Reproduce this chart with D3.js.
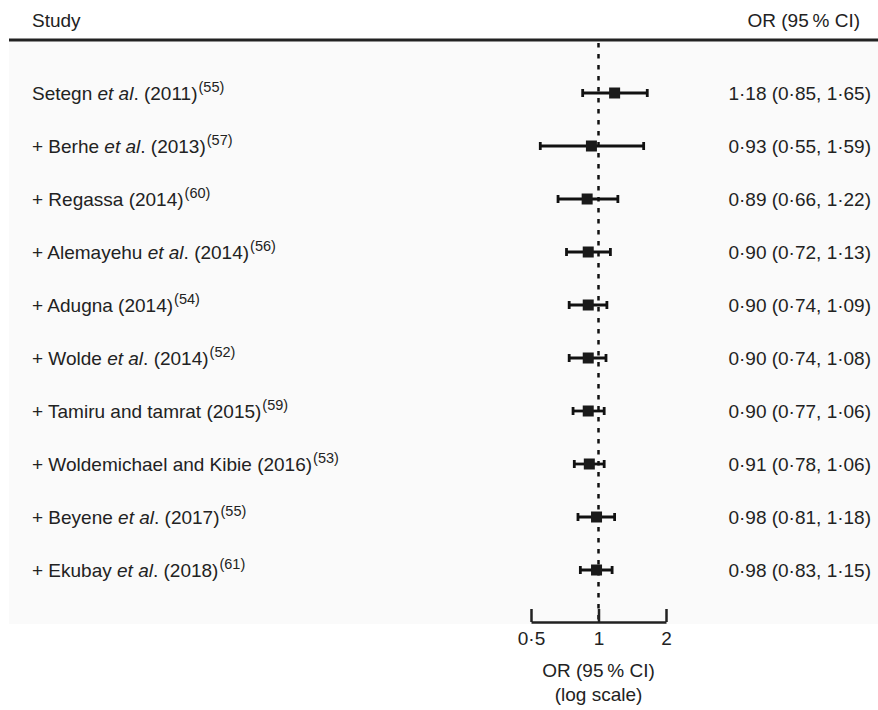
<!DOCTYPE html>
<html>
<head>
<meta charset="utf-8">
<script src="https://cdn.jsdelivr.net/npm/d3@7"></script>
<style>
  body { margin: 0; background: #fff; }
  text { font-family: "Liberation Sans", Arial, Helvetica, sans-serif; fill: #222; }
</style>
</head>
<body>
<script>
// data
const studies = ['Setegn', '+ Berhe', '+ Regassa', '+ Alemayehu', '+ Adugna', '+ Wolde',
  '+ Tamiru and tamrat', '+ Woldemichael and Kibie', '+ Beyene', '+ Ekubay'];
const etAl = [true, true, false, true, false, true, false, false, true, true];
const years = [2011, 2013, 2014, 2014, 2014, 2014, 2015, 2016, 2017, 2018];
const refs = [55, 57, 60, 56, 54, 52, 59, 53, 55, 61];
const orValues = [1.18, 0.93, 0.89, 0.90, 0.90, 0.90, 0.90, 0.91, 0.98, 0.98];
const lower = [0.85, 0.55, 0.66, 0.72, 0.74, 0.74, 0.77, 0.78, 0.81, 0.83];
const upper = [1.65, 1.59, 1.22, 1.13, 1.09, 1.08, 1.06, 1.06, 1.18, 1.15];
const tickValues = [0.5, 1, 2];

const width = 878, height = 710;
const panelTop = 40, panelBottom = 622;
const fontSize = 19;

const svg = d3.select('body').append('svg')
  .attr('width', width)
  .attr('height', height);

const fmt = v => d3.format('.2f')(v).replace('.', '\u00b7');
const tickFmt = v => String(v).replace('.', '\u00b7');

// scales
let x = d3.scaleLog().base(2)
  .domain([0.5, 2])
  .range([531, 666]);

let y = d3.scaleLinear()
  .domain([0, studies.length - 1])
  .range([93, 570]);

// panel background
svg.append('rect')
  .attr('x', 9).attr('y', panelTop)
  .attr('width', width - 9).attr('height', panelBottom - panelTop + 2)
  .attr('fill', '#fafafa');

// header
svg.append('text')
  .attr('x', 32).attr('y', 27)
  .attr('font-size', fontSize)
  .text('Study');
svg.append('text')
  .attr('x', 860).attr('y', 27)
  .attr('font-size', fontSize)
  .attr('text-anchor', 'end')
  .text('OR (95\u2009% CI)');

svg.append('line')
  .attr('x1', 9).attr('x2', width)
  .attr('y1', panelTop).attr('y2', panelTop)
  .attr('stroke', '#222')
  .attr('stroke-width', 3);

// reference line at OR = 1
svg.append('line')
  .attr('x1', x(1)).attr('x2', x(1))
  .attr('y1', panelTop + 3).attr('y2', panelBottom)
  .attr('stroke', '#111')
  .attr('stroke-width', 2.5)
  .attr('stroke-dasharray', '4.5,6.5');

// axis
let xAxis = svg.append('g')
  .attr('transform', `translate(0,${panelBottom})`)
  .call(d3.axisBottom(x)
    .tickValues(tickValues)
    .tickFormat(tickFmt)
    .tickSizeInner(-13)
    .tickSizeOuter(0)
    .tickPadding(9.5));
xAxis.select('.domain').attr('stroke', '#222').attr('stroke-width', 2.5);
xAxis.selectAll('.tick line').attr('stroke', '#222').attr('stroke-width', 2.5);
xAxis.selectAll('.tick text')
  .attr('font-size', fontSize)
  .attr('font-family', '"Liberation Sans", Arial, sans-serif')
  .attr('fill', '#222');

svg.append('text')
  .attr('x', x(1)).attr('y', 677)
  .attr('font-size', fontSize)
  .attr('text-anchor', 'middle')
  .text('OR (95\u2009% CI)');
svg.append('text')
  .attr('x', x(1)).attr('y', 701)
  .attr('font-size', fontSize)
  .attr('text-anchor', 'middle')
  .text('(log scale)');

// rows
const rows = svg.selectAll('.row').data(studies)
  .enter()
  .append('g')
  .attr('class', 'row');

let labels = rows.append('text')
  .attr('x', 32)
  .attr('y', (d, i) => y(i) + 6.5)
  .attr('font-size', fontSize);
labels.append('tspan').text((d, i) => etAl[i] ? d + ' ' : d + ' (' + years[i] + ')');
labels.filter((d, i) => etAl[i]).append('tspan')
  .attr('font-style', 'italic').text('et al');
labels.filter((d, i) => etAl[i]).append('tspan')
  .text(d => '. (' + years[studies.indexOf(d)] + ')');
labels.append('tspan')
  .attr('font-size', 14.5)
  .attr('dx', 1)
  .attr('dy', -8)
  .text((d, i) => '(' + refs[i] + ')');

rows.append('text')
  .attr('x', 871)
  .attr('y', (d, i) => y(i) + 6.5)
  .attr('font-size', fontSize)
  .attr('text-anchor', 'end')
  .text((d, i) => `${fmt(orValues[i])} (${fmt(lower[i])}, ${fmt(upper[i])})`);

// CI lines
rows.append('line')
  .attr('x1', (d, i) => x(lower[i]))
  .attr('x2', (d, i) => x(upper[i]))
  .attr('y1', (d, i) => y(i))
  .attr('y2', (d, i) => y(i))
  .attr('stroke', '#111')
  .attr('stroke-width', 2.8);

[lower, upper].forEach(arr => {
  rows.append('line')
    .attr('x1', (d, i) => x(arr[i]))
    .attr('x2', (d, i) => x(arr[i]))
    .attr('y1', (d, i) => y(i) - 4)
    .attr('y2', (d, i) => y(i) + 4)
    .attr('stroke', '#111')
    .attr('stroke-width', 2.8);
});

rows.append('rect')
  .attr('x', (d, i) => x(orValues[i]) - 5.5)
  .attr('y', (d, i) => y(i) - 5.5)
  .attr('width', 11)
  .attr('height', 11)
  .attr('fill', '#1a1a1a');
</script>
</body>
</html>
